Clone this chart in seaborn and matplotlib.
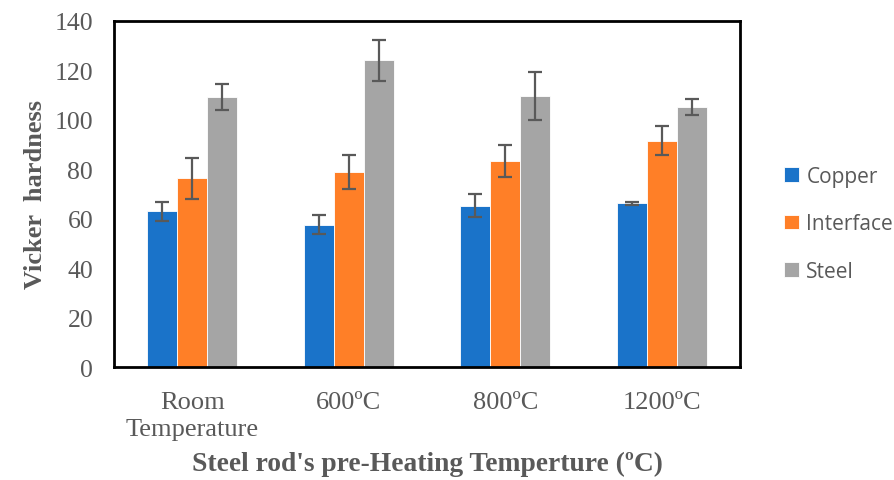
import matplotlib
matplotlib.use("Agg")
import matplotlib.pyplot as plt
import pandas as pd
import seaborn as sns

# values
temperatures = ["Room\nTemperature", "600ºC", "800ºC", "1200ºC"]
materials = ["Copper", "Interface", "Steel"]
copper = [63.0, 57.6, 65.3, 66.2]
interface = [76.3, 78.9, 83.2, 91.6]
steel = [109.3, 124.1, 109.7, 105.2]
copper_err = [3.8, 3.8, 4.7, 0.6]
interface_err = [8.4, 6.8, 6.5, 6.0]
steel_err = [5.4, 8.2, 9.8, 3.2]

colors = ["#1a73c9", "#ff7f27", "#a5a5a5"]
grey = "#595959"

rows = []
for mat, vals, errs in zip(materials, [copper, interface, steel],
                           [copper_err, interface_err, steel_err]):
    for t, v, e in zip(temperatures, vals, errs):
        rows.append({"temp": t, "material": mat, "hardness": v, "err": e})
df = pd.DataFrame(rows)

sns.set_style("white")
plt.rcParams["font.family"] = ["Liberation Serif", "DejaVu Serif"]

fig = plt.figure(figsize=(8.94, 4.81), dpi=100)
ax = fig.add_axes([0.1275, 0.2349, 0.7002, 0.7194])

sns.barplot(data=df, x="temp", y="hardness", hue="material", order=temperatures,
            hue_order=materials, palette=colors, saturation=1, width=0.575,
            errorbar=None, edgecolor="white", linewidth=0.6, ax=ax)

# error bars placed at the bar centres seaborn produced
for i, mat in enumerate(materials):
    bars = ax.containers[i]
    sub = df[df.material == mat].set_index("temp").loc[temperatures]
    xs = [b.get_x() + b.get_width() / 2 for b in bars]
    ax.errorbar(xs, sub["hardness"], yerr=sub["err"], fmt="none",
                ecolor=grey, elinewidth=1.6, capsize=5, capthick=1.6)

ax.set_xlim(-0.5, 3.5)
ax.set_ylim(0, 140)
ax.set_yticks(range(0, 141, 20))
ax.tick_params(axis="y", direction="in", length=7, width=1.8, colors="black",
               labelcolor=grey, labelsize=18.5, pad=15)
ax.tick_params(axis="x", length=0, labelcolor=grey, labelsize=19, pad=17.5)
for lab in ax.get_xticklabels():
    lab.set_verticalalignment("top")
    lab.set_linespacing(1.3)

for s in ax.spines.values():
    s.set_visible(True)
    s.set_color("black")
    s.set_linewidth(2)

ax.set_ylabel("Vicker  hardness", fontsize=19, fontweight="bold", color=grey)
ax.yaxis.set_label_coords(-0.107, 0.5)
ax.set_xlabel("Steel rod's pre-Heating Temperture (ºC)", fontsize=19.8,
              fontweight="bold", color=grey)
ax.xaxis.set_label_coords(0.5, -0.243)

leg = ax.legend(loc="center left", bbox_to_anchor=(1.041, 0.414), frameon=False,
                handlelength=0.7, handleheight=0.7, handletextpad=0.35,
                labelspacing=1.27, prop={"family": "Open Sans", "size": 15})
for t in leg.get_texts():
    t.set_color(grey)

fig.savefig("out.png", dpi=100)
